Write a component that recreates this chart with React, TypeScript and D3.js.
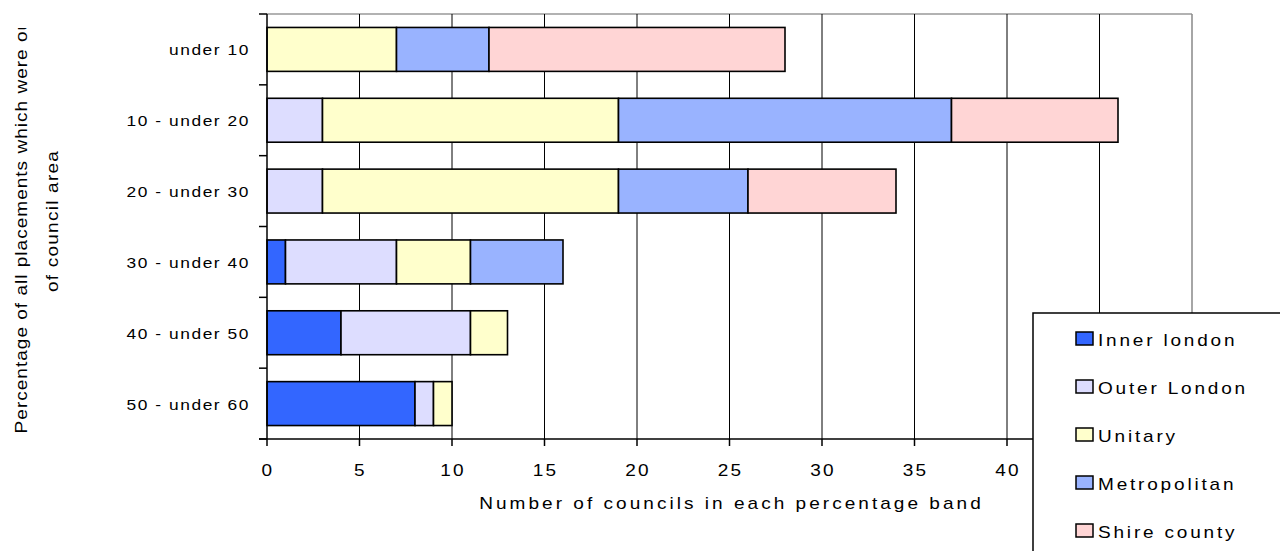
import React from "react";
import * as d3 from "d3";

const categories = ["under 10", "10 - under 20", "20 - under 30", "30 - under 40", "40 - under 50", "50 - under 60"];
const seriesNames = ["Inner london", "Outer London", "Unitary", "Metropolitan", "Shire county"];
const innerLondon = [0, 0, 0, 1, 4, 8];
const outerLondon = [0, 3, 3, 6, 7, 1];
const unitary = [7, 16, 16, 4, 2, 1];
const metropolitan = [5, 18, 7, 5, 0, 0];
const shireCounty = [16, 9, 8, 0, 0, 0];
const gridTicks = [0, 5, 10, 15, 20, 25, 30, 35, 40, 45, 50];
const tickLabels = [0, 5, 10, 15, 20, 25, 30, 35, 40];
const colors = ["#3366FF", "#DDDDFF", "#FFFFCC", "#99B3FF", "#FFD5D5"];
const xTitle = "Number of councils in each percentage band";
const yTitle1 = "Percentage of all placements which were out";
const yTitle2 = "of council area";

const W = 1280, H = 551;
const L = 267, R = 1192, T = 14, B = 439;
const FONT = "'Liberation Sans', Arial, sans-serif";
const SX = 1.12;

function SText(props: any) {
  const { x, y, anchor = "start", size = 17, ls = 0, rotate = 0, children } = props;
  return (
    <text
      transform={`translate(${x},${y}) rotate(${rotate}) scale(${SX},1)`}
      textAnchor={anchor}
      fontSize={size}
      letterSpacing={ls}
      fontFamily={FONT}
      fill="#000"
    >
      {children}
    </text>
  );
}

export default function App() {
  const rows = categories.map((c, i) => ({
    cat: c,
    s0: innerLondon[i],
    s1: outerLondon[i],
    s2: unitary[i],
    s3: metropolitan[i],
    s4: shireCounty[i],
  }));
  const keys = ["s0", "s1", "s2", "s3", "s4"];
  const stacked = d3.stack<any>().keys(keys)(rows);
  const x = d3.scaleLinear().domain([0, 50]).range([L, R]);
  const y = d3.scaleBand<string>().domain(categories).range([T, B]).paddingInner(0.38).paddingOuter(0.19);
  const step = y.step();
  const boundaries = d3.range(categories.length + 1).map((i) => T + i * step);

  return (
    <svg width={W} height={H} style={{ position: "absolute", left: 0, top: 0, background: "#fff" }}>
      <defs>
        <clipPath id="ytclip" clipPathUnits="userSpaceOnUse">
          <rect x={0} y={28} width={100} height={H} />
        </clipPath>
      </defs>
      <rect x={0} y={0} width={W} height={H} fill="#fff" />
      {/* plot border top / right */}
      <line x1={L} x2={R} y1={T} y2={T} stroke="#999" strokeWidth={1.5} />
      <line x1={R} x2={R} y1={T} y2={B} stroke="#888" strokeWidth={1.5} />
      {/* grid lines */}
      {gridTicks.filter((t) => t > 0 && t < 50).map((t) => (
        <line key={"g" + t} x1={x(t)} x2={x(t)} y1={T} y2={B} stroke="#000" strokeWidth={1} />
      ))}
      {/* bars */}
      {stacked.map((layer, li) => (
        <g key={li}>
          {layer.map((d: any, i: number) =>
            d[1] - d[0] > 0 ? (
              <rect
                key={i}
                x={x(d[0])}
                y={y(categories[i])!}
                width={x(d[1]) - x(d[0])}
                height={y.bandwidth()}
                fill={colors[li]}
                stroke="#000"
                strokeWidth={1.6}
              />
            ) : null
          )}
        </g>
      ))}
      {/* y axis */}
      <line x1={L} x2={L} y1={T} y2={B} stroke="#000" strokeWidth={1.5} />
      {boundaries.map((b, i) => (
        <line key={"yt" + i} x1={L - 8} x2={L} y1={b} y2={b} stroke="#000" strokeWidth={1.5} />
      ))}
      {/* x axis */}
      <line x1={L - 8} x2={R} y1={B} y2={B} stroke="#000" strokeWidth={1.5} />
      {gridTicks.map((t) => (
        <line key={"xt" + t} x1={x(t)} x2={x(t)} y1={B} y2={B + 7} stroke="#000" strokeWidth={1.5} />
      ))}
      {tickLabels.map((t) => (
        <SText key={"xl" + t} x={x(t) + 1} y={476} anchor="middle" size={17} ls={2}>
          {String(t)}
        </SText>
      ))}
      {/* category labels */}
      {categories.map((c) => (
        <SText key={c} x={250} y={y(c)! + y.bandwidth() / 2 + 6} anchor="end" size={15.5} ls={1.4}>
          {c}
        </SText>
      ))}
      {/* axis titles */}
      <SText x={(479 + 980) / 2 + 2} y={509} anchor="middle" size={17} ls={2.7}>
        {xTitle}
      </SText>
      <g clipPath="url(#ytclip)">
        <SText x={27} y={223} anchor="middle" size={17} ls={0.9} rotate={-90}>
          {yTitle1}
        </SText>
      </g>
      <SText x={58} y={221} anchor="middle" size={17} ls={1.1} rotate={-90}>
        {yTitle2}
      </SText>
      {/* legend */}
      <rect x={1033} y={313} width={300} height={300} fill="#fff" stroke="#000" strokeWidth={1.5} />
      {seriesNames.map((s, i) => (
        <g key={s}>
          <rect x={1076} y={332 + i * 48} width={17} height={13} fill={colors[i]} stroke="#000" strokeWidth={1.5} />
          <SText x={1098} y={346 + i * 48} size={17} ls={2.5}>
            {s}
          </SText>
        </g>
      ))}
    </svg>
  );
}
